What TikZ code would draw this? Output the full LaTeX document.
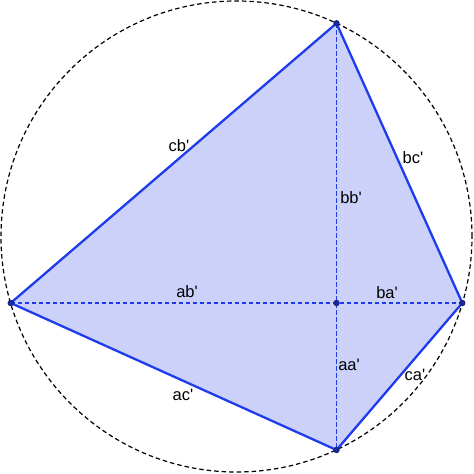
\documentclass[tikz,border=0pt]{standalone}
\usepackage{fontspec}
\setmainfont{Liberation Sans}
\definecolor{edgeblue}{RGB}{30,60,235}
\definecolor{facefill}{RGB}{204,209,250}
\definecolor{dotblue}{RGB}{25,35,120}
\newcommand{\pr}{\textquotesingle}
\begin{document}
\begin{tikzpicture}[x=1pt,y=1pt,
     edge/.style={draw=edgeblue,line width=2.3pt},
     chord/.style={draw=edgeblue,line width=1.6pt,dash pattern=on 4.5pt off 2.5pt},
     dot/.style={circle,draw=dotblue,line width=0.8pt,fill=edgeblue!70!black,inner sep=0pt,minimum size=5.5pt},
     lab/.style={font=\fontsize{16.5}{19}\selectfont,text=black}
     ]
\useasboundingbox (0,0) rectangle (474,474);
%Centre and radius of the dashed circle
\def \cx{236.5}
\def \cy{237.5}
\def \r{235.5}

%Vertices of the quadrilateral
\coordinate (a) at (10.7,171);
\coordinate (b) at (336.5,450.7);
\coordinate (c) at (462.3,171);
\coordinate (d) at (336.5,24);
\coordinate (o) at (336.5,171);

%Filled face and the circle round it
\fill[facefill] (a) -- (b) -- (c) -- (d) -- cycle;
\draw[line width=1.2pt,dash pattern=on 4.5pt off 3pt] (\cx,\cy) circle (\r);

%Diagonals
\draw[chord] (a) -- (c);
\draw[chord] (b) -- (d);

%Sides
\draw[edge,line join=round] (a) -- (b) -- (c) -- (d) -- cycle;

%Vertex dots
\foreach \p in {a,b,c,d,o}
   \node[dot] (dot\p) at (\p) {};

%Segment labels
\node[lab] (cb) at (179,328) {cb\pr};
\node[lab] (bc) at (413,316) {bc\pr};
\node[lab] (bb) at (351,276) {bb\pr};
\node[lab] (ab) at (187,182) {ab\pr};
\node[lab] (ba) at (387,181) {ba\pr};
\node[lab] (aa) at (349,109) {aa\pr};
\node[lab] (ca) at (415,99) {ca\pr};
\node[lab] (ac) at (183,79) {ac\pr};
\end{tikzpicture}
\end{document}
